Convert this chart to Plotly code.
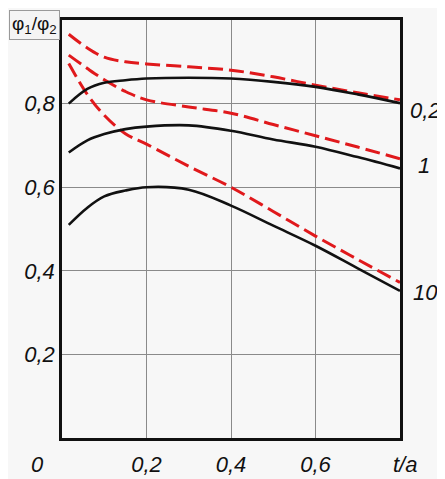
import plotly.graph_objects as go

# t/a positions
x_pts = [0.016, 0.06, 0.1, 0.15, 0.2, 0.3, 0.4, 0.5, 0.6, 0.7, 0.8]

# solid black curves
black_02 = [0.800, 0.835, 0.850, 0.856, 0.860, 0.862, 0.860, 0.852, 0.840, 0.822, 0.801]
black_1 = [0.683, 0.712, 0.727, 0.739, 0.745, 0.748, 0.735, 0.714, 0.697, 0.672, 0.645]
black_10 = [0.510, 0.551, 0.578, 0.592, 0.600, 0.594, 0.556, 0.508, 0.460, 0.406, 0.352]

# dashed red curves
red_02 = [0.966, 0.933, 0.911, 0.900, 0.895, 0.888, 0.880, 0.864, 0.844, 0.826, 0.809]
red_1 = [0.916, 0.884, 0.857, 0.829, 0.809, 0.792, 0.777, 0.750, 0.723, 0.696, 0.668]
red_10 = [0.896, 0.822, 0.772, 0.728, 0.703, 0.650, 0.600, 0.542, 0.483, 0.427, 0.372]

x_ticks = [0.2, 0.4, 0.6]
x_tick_text = ["0,2", "0,4", "0,6"]
y_ticks = [0.2, 0.4, 0.6, 0.8]
y_tick_text = ["0,2", "0,4", "0,6", "0,8"]

curve_labels = ["0,2", "1", "10"]
label_y = [0.784, 0.653, 0.347]
label_shift = [8, 16, 11]

FONT = "Liberation Sans, Arial, sans-serif"
TXT = dict(family=FONT, size=22, color="#111", style="italic")

fig = go.Figure()
for ys in (red_02, red_1, red_10):
    fig.add_trace(go.Scatter(x=x_pts, y=ys, mode="lines", line_shape="spline",
                             line=dict(color="#e0191c", width=3, dash="15px,6px"),
                             showlegend=False, hoverinfo="skip"))
for ys in (black_02, black_1, black_10):
    fig.add_trace(go.Scatter(x=x_pts, y=ys, mode="lines", line_shape="spline",
                             line=dict(color="#111111", width=2.6),
                             showlegend=False, hoverinfo="skip"))

for txt, yv, sh in zip(curve_labels, label_y, label_shift):
    fig.add_annotation(x=1.0, y=yv, xref="paper", yref="y", text=txt, showarrow=False,
                       xanchor="left", yanchor="middle", xshift=sh, font=TXT)

fig.add_annotation(x=-0.072, y=-0.064, xref="paper", yref="paper", text="0",
                   xanchor="center", yanchor="middle", showarrow=False, font=TXT)
fig.add_annotation(x=1.015, y=-0.064, xref="paper", yref="paper", text="t/a",
                   xanchor="center", yanchor="middle", showarrow=False, font=TXT)
fig.add_annotation(x=-0.08, y=0.987, xref="paper", yref="paper",
                   text="φ<sub>1</sub>/φ<sub>2</sub>",
                   showarrow=False, xanchor="center", yanchor="middle",
                   bordercolor="#999", borderwidth=1, borderpad=2, bgcolor="#f4f4f4",
                   font=dict(family=FONT, size=19, color="#111"))

fig.update_layout(
    width=445, height=479,
    margin=dict(l=54, r=53, t=9, b=49),
    paper_bgcolor="#f7f7f7", plot_bgcolor="#f7f7f7",
    xaxis=dict(range=[0, 0.8], tickvals=x_ticks, ticktext=x_tick_text,
               showgrid=True, gridcolor="#8a8a8a", gridwidth=1,
               showline=True, linecolor="#111", linewidth=2.5, mirror=True,
               zeroline=False, ticks="", ticklen=0, ticklabelstandoff=5,
               tickfont=TXT),
    yaxis=dict(range=[0, 1.0], tickvals=y_ticks, ticktext=y_tick_text,
               showgrid=True, gridcolor="#8a8a8a", gridwidth=1,
               showline=True, linecolor="#111", linewidth=2.5, mirror=True,
               zeroline=False, ticks="", ticklen=0,
               tickfont=TXT),
)
fig.write_html("out.html")
